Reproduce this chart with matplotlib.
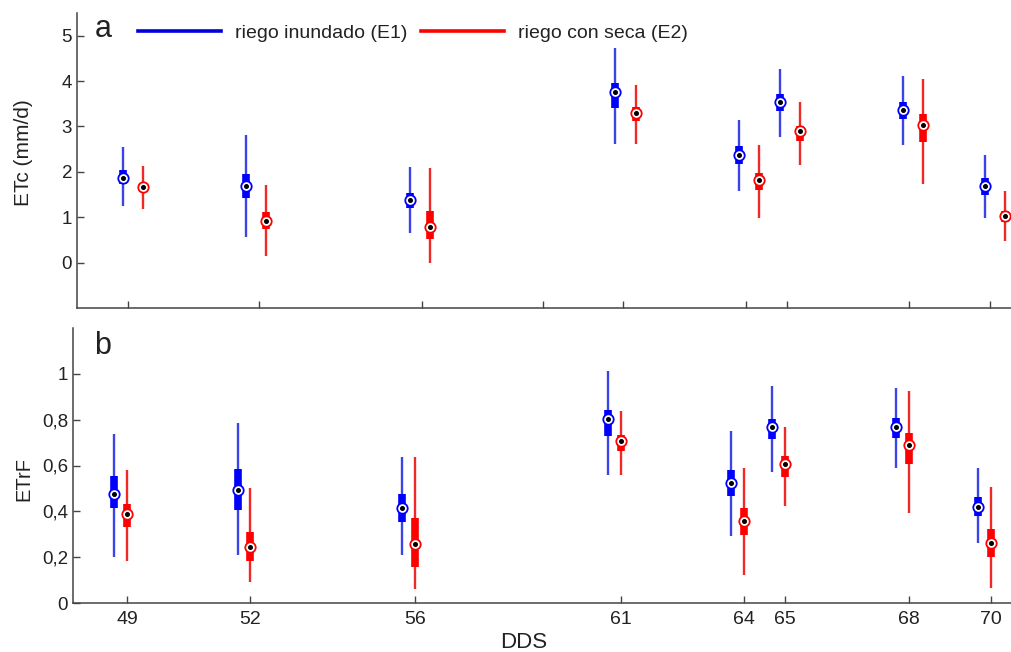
import numpy as np
import matplotlib
matplotlib.use("Agg")
import matplotlib.pyplot as plt
from matplotlib.lines import Line2D

plt.rcParams['font.family'] = ['Liberation Sans', 'DejaVu Sans']

# dias despues de siembra
dds = [49, 52, 56, 61, 64, 65, 68, 70]

# ETc (mm/d): bigote inf, q1, mediana, q3, bigote sup
etc_e1_lo = [1.24, 0.57, 0.65, 2.61, 1.58, 2.76, 2.59, 0.98]
etc_e1_q1 = [1.73, 1.42, 1.20, 3.40, 2.17, 3.33, 3.16, 1.49]
etc_e1_med = [1.875, 1.68, 1.38, 3.75, 2.37, 3.55, 3.37, 1.68]
etc_e1_q3 = [2.05, 1.96, 1.54, 3.95, 2.56, 3.71, 3.55, 1.86]
etc_e1_hi = [2.55, 2.82, 2.10, 4.72, 3.15, 4.26, 4.11, 2.37]

etc_e2_lo = [1.19, 0.15, 0.00, 2.62, 0.98, 2.14, 1.74, 0.48]
etc_e2_q1 = [1.56, 0.73, 0.51, 3.11, 1.59, 2.67, 2.66, 0.90]
etc_e2_med = [1.67, 0.92, 0.79, 3.30, 1.81, 2.89, 3.03, 1.03]
etc_e2_q3 = [1.75, 1.12, 1.14, 3.42, 1.98, 3.01, 3.27, 1.14]
etc_e2_hi = [2.12, 1.70, 2.09, 3.92, 2.59, 3.55, 4.04, 1.58]

# ETrF
etrf_e1_lo = [0.200, 0.210, 0.210, 0.559, 0.294, 0.573, 0.591, 0.263]
etrf_e1_q1 = [0.416, 0.406, 0.355, 0.729, 0.467, 0.715, 0.719, 0.381]
etrf_e1_med = [0.475, 0.492, 0.413, 0.803, 0.524, 0.770, 0.770, 0.421]
etrf_e1_q3 = [0.556, 0.585, 0.476, 0.843, 0.581, 0.803, 0.809, 0.462]
etrf_e1_hi = [0.737, 0.785, 0.635, 1.013, 0.751, 0.945, 0.937, 0.591]

etrf_e2_lo = [0.185, 0.093, 0.060, 0.559, 0.122, 0.424, 0.394, 0.067]
etrf_e2_q1 = [0.333, 0.185, 0.159, 0.665, 0.297, 0.552, 0.606, 0.202]
etrf_e2_med = [0.387, 0.246, 0.256, 0.707, 0.360, 0.606, 0.690, 0.263]
etrf_e2_q3 = [0.432, 0.311, 0.373, 0.734, 0.413, 0.642, 0.744, 0.323]
etrf_e2_hi = [0.581, 0.501, 0.635, 0.838, 0.588, 0.770, 0.923, 0.505]

top_ticks = [49, 52.19, 56.15, 59.11, 61.06, 64.05, 65.05, 68.03, 70]
etrf_ticks = [0, 0.2, 0.4, 0.6, 0.8, 1]
etrf_ticklabels = ['0', '0,2', '0,4', '0,6', '0,8', '1']

TXT = '#222222'
SPINE = '#444444'


def compact_box(ax, x, lo, q1, med, q3, hi, box_col, wh_col):
    """ boxplot compacto al estilo MATLAB """
    x = np.asarray(x, dtype=float)
    ax.vlines(x, lo, hi, colors=wh_col, linewidth=1.7, zorder=2)
    ax.vlines(x, q1, q3, colors=box_col, linewidth=5.5, zorder=3)
    ax.plot(x, med, linestyle='none', marker='o', markersize=7.5,
            markerfacecolor='white', markeredgecolor=box_col, markeredgewidth=1.3, zorder=4)
    ax.plot(x, med, linestyle='none', marker='o', markersize=2.6,
            markerfacecolor='black', markeredgecolor='black', zorder=5)


def style_axes(ax):
    for s in ['top', 'right']:
        ax.spines[s].set_visible(False)
    for s in ['left', 'bottom']:
        ax.spines[s].set_color(SPINE)
        ax.spines[s].set_linewidth(1.1)
    ax.tick_params(direction='in', length=5, width=1, color=SPINE,
                   labelcolor=TXT, labelsize=13.5)


fig = plt.figure(figsize=(10.11, 6.52), dpi=100)
ax1 = fig.add_axes([77 / 1011, 1 - 308 / 652, (1011 - 77) / 1011, 295 / 652])
ax2 = fig.add_axes([73 / 1011, 1 - 603 / 652, (1011 - 73) / 1011, 275 / 652])

x = np.array(dds, dtype=float)

# panel a
compact_box(ax1, x - 0.13, etc_e1_lo, etc_e1_q1, etc_e1_med, etc_e1_q3, etc_e1_hi, '#0000ff', '#3a44e8')
compact_box(ax1, x + 0.36, etc_e2_lo, etc_e2_q1, etc_e2_med, etc_e2_q3, etc_e2_hi, '#ff0000', '#f02828')
ax1.set_xlim(47.75, 70.51)
ax1.set_ylim(-1, 5.5)
ax1.set_yticks([0, 1, 2, 3, 4, 5])
ax1.set_xticks(top_ticks)
ax1.set_xticklabels([])
style_axes(ax1)
ax1.set_ylabel('ETc (mm/d)', fontsize=15, color=TXT)
ax1.yaxis.set_label_coords(-0.047, 0.525)
ax1.text(0.019, 0.946, 'a', transform=ax1.transAxes, fontsize=22, color=TXT, va='center')

handles = [Line2D([], [], color='#0000dd', linewidth=2.6),
           Line2D([], [], color='#ff0000', linewidth=2.6)]
ax1.legend(handles, ['riego inundado (E1)', 'riego con seca (E2)'], ncol=2, frameon=False,
           loc='center left', bbox_to_anchor=(120 / 1011, 1 - 33 / 652),
           bbox_transform=fig.transFigure, fontsize=14, handlelength=4.3,
           handletextpad=0.7, columnspacing=0.7, labelcolor=TXT)

# panel b
compact_box(ax2, x - 0.31, etrf_e1_lo, etrf_e1_q1, etrf_e1_med, etrf_e1_q3, etrf_e1_hi, '#0000ff', '#3a44e8')
compact_box(ax2, x, etrf_e2_lo, etrf_e2_q1, etrf_e2_med, etrf_e2_q3, etrf_e2_hi, '#ff0000', '#f02828')
ax2.set_xlim(47.69, 70.49)
ax2.set_ylim(0, 1.2)
ax2.set_yticks(etrf_ticks)
ax2.set_yticklabels(etrf_ticklabels)
ax2.set_xticks(dds)
ax2.set_xticklabels([str(d) for d in dds])
style_axes(ax2)
ax2.tick_params(axis='x', labelsize=14, pad=6)
ax2.set_ylabel('ETrF', fontsize=14.5, color=TXT)
ax2.yaxis.set_label_coords(-0.0426, 0.45)
ax2.set_xlabel('DDS', fontsize=16, color=TXT)
ax2.xaxis.set_label_coords((524 - 73) / (1011 - 73), -0.105)
ax2.text(0.023, 0.935, 'b', transform=ax2.transAxes, fontsize=22, color=TXT, va='center')

fig.savefig('out.png', dpi=100)
